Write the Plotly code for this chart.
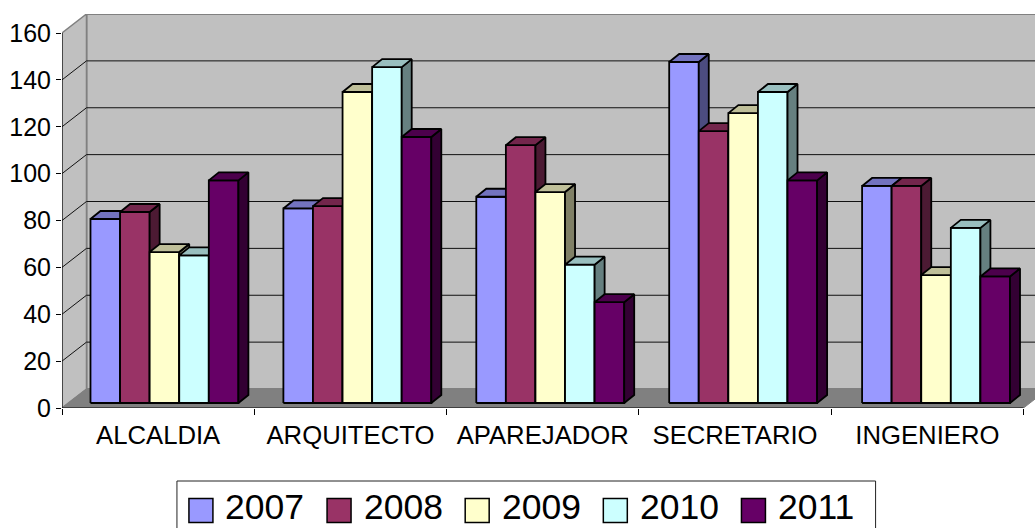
import plotly.graph_objects as go

categories = ["ALCALDIA", "ARQUITECTO", "APAREJADOR", "SECRETARIO", "INGENIERO"]
years = ["2007", "2008", "2009", "2010", "2011"]
v2007 = [78.5, 83, 88, 145.5, 92.6]
v2008 = [81.5, 84, 110, 116, 92.6]
v2009 = [64.4, 132.7, 90, 123.7, 54.6]
v2010 = [63, 143.3, 59, 132.7, 74.7]
v2011 = [95, 113.5, 43, 95, 54]
series = [v2007, v2008, v2009, v2010, v2011]
colors = [(0x99, 0x99, 0xFF), (0x99, 0x33, 0x66), (0xFF, 0xFF, 0xCC), (0xCC, 0xFF, 0xFF), (0x66, 0x00, 0x66)]
y_ticks = list(range(0, 161, 20))

W, H = 1035, 528
L, T, B = 61.5, 14, 408
PX_X = 192.4            # pixels per category
PX_Y = 375 / 160        # pixels per value unit
xmax = (W - L) / PX_X
ymax = (B - T) / PX_Y
wall_dx, wall_dy = 24.5 / PX_X, 19 / PX_Y
base_dy = 5 / PX_Y
bar_dx, bar_dy = 10 / PX_X, 8 / PX_Y
bar_w = 29.6 / PX_X
bar_step = 193 / PX_X
bar_start = 28.5 / PX_X


def rgb(c, k=1.0):
    return "rgb(%d,%d,%d)" % tuple(round(a * k) for a in c)


fig = go.Figure()


def poly(xs, ys, fill=None, line="#000", width=1.8):
    closed = fill is not None
    fig.add_trace(go.Scatter(
        x=xs + xs[:1] if closed else xs, y=ys + ys[:1] if closed else ys,
        mode="lines", fill="toself" if closed else "none",
        fillcolor=fill, line=dict(color=line, width=width),
        showlegend=False, hoverinfo="skip"))


GREY, WALL = "#808080", "#C0C0C0"
END = xmax + 0.2
# back wall, side wall, floor
poly([wall_dx, END, END, wall_dx], [wall_dy, wall_dy, 160 + wall_dy, 160 + wall_dy], WALL, GREY, 2)
poly([0, wall_dx, wall_dx, 0], [0, wall_dy, 160 + wall_dy, 160], WALL, GREY, 1.5)
poly([0, 5, 5 + wall_dx, wall_dx], [0, 0, wall_dy, wall_dy], GREY, GREY, 1)
# grid lines
for t in y_ticks[1:-1]:
    poly([0, wall_dx, END], [t, t + wall_dy, t + wall_dy], None, "#111", 1)
# axis lines
poly([0, 0], [0, 160], None, "#000", 1)
poly([0, 5], [0, 0], None, "#000", 1)

# bars, painted left to right
for c in range(len(categories)):
    for s, vals in enumerate(series):
        x0 = bar_start + c * bar_step + s * bar_w
        x1 = x0 + bar_w
        b = base_dy
        t = vals[c] + base_dy
        col = colors[s]
        poly([x0, x1, x1, x0], [b, b, t, t], rgb(col))
        poly([x1, x1 + bar_dx, x1 + bar_dx, x1], [b, b + bar_dy, t + bar_dy, t], rgb(col, 0.5))
        poly([x0, x1, x1 + bar_dx, x0 + bar_dx], [t, t, t + bar_dy, t + bar_dy], rgb(col, 0.75))

shapes, annotations = [], []


def fx(p):
    return (p - L) / (W - L)


def fy(p):
    return (B - p) / (B - T)


shapes.append(dict(type="rect", xref="paper", yref="paper", x0=fx(176.5), x1=fx(875.5),
                   y0=fy(540), y1=fy(481), line=dict(color="#222", width=1), fillcolor="#fff"))
for i, yr in enumerate(years):
    sx = 188.5 + i * 138.2
    shapes.append(dict(type="rect", xref="paper", yref="paper", x0=fx(sx), x1=fx(sx + 24),
                       y0=fy(522.5), y1=fy(498.5), line=dict(color="#000", width=1.5),
                       fillcolor=rgb(colors[i])))
    annotations.append(dict(xref="paper", yref="paper", x=fx(sx + 35.5), y=fy(507), text=yr,
                            showarrow=False, xanchor="left", yanchor="middle",
                            font=dict(size=35.5, color="#000", family="Liberation Sans"),
                            borderpad=0))

fig.update_layout(
    width=W, height=H, margin=dict(l=L, r=0, t=T, b=H - B, pad=0),
    paper_bgcolor="#fff", plot_bgcolor="#fff", showlegend=False,
    font=dict(family="Liberation Sans", color="#000", size=25),
    shapes=shapes, annotations=annotations,
    xaxis=dict(range=[0, xmax], showgrid=False, zeroline=False, showline=False,
               tickmode="array", tickvals=[i + 0.5 for i in range(len(categories))],
               ticktext=categories, ticks="", tickangle=0, tickfont=dict(size=25.7),
               ticklabelstandoff=9,
               minor=dict(tickmode="array", tickvals=list(range(len(categories) + 1)),
                          ticks="outside", ticklen=6, tickcolor="#000", tickwidth=1, showgrid=False)),
    yaxis=dict(range=[0, ymax], showgrid=False, zeroline=False, showline=False,
               tickmode="array", tickvals=y_ticks, ticks="outside", ticklen=5,
               tickcolor="#000", tickwidth=1, tickfont=dict(size=25)),
)

fig.write_html("out.html", config={"displayModeBar": False},
               post_script="document.body.style.margin='0';document.body.style.overflow='hidden';")
